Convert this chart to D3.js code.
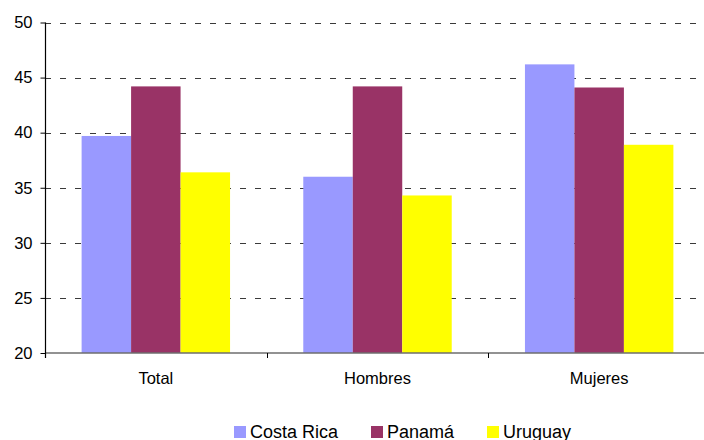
<!DOCTYPE html>
<html>
<head>
<meta charset="utf-8">
<script src="https://cdn.jsdelivr.net/npm/d3@7"></script>
<style>
  html, body { margin: 0; padding: 0; background: #fff; }
  svg { display: block; font-family: Arial, "Liberation Sans", sans-serif; }
</style>
</head>
<body>
<svg id="chart" width="704" height="440"></svg>
<script>
// Grupos y series
const categories = ["Total", "Hombres", "Mujeres"];
const seriesNames = ["Costa Rica", "Panamá", "Uruguay"];
const costaRica = [39.7, 36.0, 46.2];
const panama = [44.2, 44.2, 44.1];
const uruguay = [36.4, 34.3, 38.9];
const yTicks = [20, 25, 30, 35, 40, 45, 50];
const colors = ["#9999FF", "#993366", "#FFFF00"];

const seriesValues = [costaRica, panama, uruguay];

const svg = d3.select("#chart");
const margin = { left: 45, top: 22.5, right: 710, bottom: 353 };

const x0 = d3.scaleBand()
  .domain(categories)
  .range([margin.left, margin.right])
  .paddingInner(0)
  .paddingOuter(0);

const x1 = d3.scaleBand()
  .domain(seriesNames)
  .range([0, x0.bandwidth()])
  .paddingInner(0)
  .paddingOuter(0.74);

const y = d3.scaleLinear()
  .domain([20, 50])
  .range([margin.bottom, margin.top]);

// Líneas de cuadrícula discontinuas
svg.append("g")
  .selectAll("line")
  .data(yTicks.filter(t => t > 20))
  .join("line")
  .attr("x1", margin.left)
  .attr("x2", margin.right)
  .attr("y1", d => Math.round(y(d)) + 0.5)
  .attr("y2", d => Math.round(y(d)) + 0.5)
  .attr("stroke", "#3a3a3a")
  .attr("stroke-width", 1.2)
  .attr("stroke-dasharray", "6,9");

// Barras
const groups = svg.append("g")
  .selectAll("g")
  .data(categories)
  .join("g")
  .attr("transform", d => `translate(${x0(d)},0)`);

groups.selectAll("rect")
  .data((c, i) => seriesNames.map((s, k) => ({ s, k, v: seriesValues[k][i] })))
  .join("rect")
  .attr("x", d => x1(d.s))
  .attr("width", x1.bandwidth())
  .attr("y", d => y(d.v))
  .attr("height", d => y(20) - y(d.v))
  .attr("fill", d => colors[d.k]);

// Eje X (línea base y marcas entre categorías)
svg.append("line")
  .attr("x1", margin.left)
  .attr("x2", margin.right)
  .attr("y1", y(20))
  .attr("y2", y(20))
  .attr("stroke", "#6e6e6e")
  .attr("stroke-width", 1.5);

svg.append("g")
  .selectAll("line")
  .data(categories.slice(1))
  .join("line")
  .attr("x1", d => Math.round(x0(d)) + 0.5)
  .attr("x2", d => Math.round(x0(d)) + 0.5)
  .attr("y1", y(20))
  .attr("y2", y(20) + 5)
  .attr("stroke", "#000");

svg.append("g")
  .selectAll("text")
  .data(categories)
  .join("text")
  .attr("x", d => x0(d) + x0.bandwidth() / 2)
  .attr("y", 384)
  .attr("text-anchor", "middle")
  .attr("font-size", 16.5)
  .attr("fill", "#000")
  .text(d => d);

// Eje Y
const yAxis = d3.axisLeft(y)
  .tickValues(yTicks)
  .tickSize(5)
  .tickPadding(8)
  .tickFormat(d3.format("d"));

const yg = svg.append("g")
  .attr("transform", `translate(${margin.left + 0.5},0)`)
  .call(yAxis);
yg.select(".domain")
  .attr("d", `M0,${y(50)}V${y(20) + 5}`)
  .attr("stroke", "#000")
  .attr("stroke-width", 1.2);
yg.selectAll(".tick line").attr("stroke", "#000");
yg.selectAll(".tick text")
  .attr("font-family", "Arial, 'Liberation Sans', sans-serif")
  .attr("font-size", 16.5)
  .attr("fill", "#000");

// Leyenda
const legendX = [234, 371, 487];
const legend = svg.append("g")
  .selectAll("g")
  .data(seriesNames)
  .join("g")
  .attr("transform", (d, i) => `translate(${legendX[i]},426)`);
legend.append("rect")
  .attr("width", 12)
  .attr("height", 12)
  .attr("fill", (d, i) => colors[i]);
legend.append("text")
  .attr("x", 16)
  .attr("y", 12)
  .attr("font-size", 18)
  .attr("fill", "#000")
  .text(d => d);
</script>
</body>
</html>
